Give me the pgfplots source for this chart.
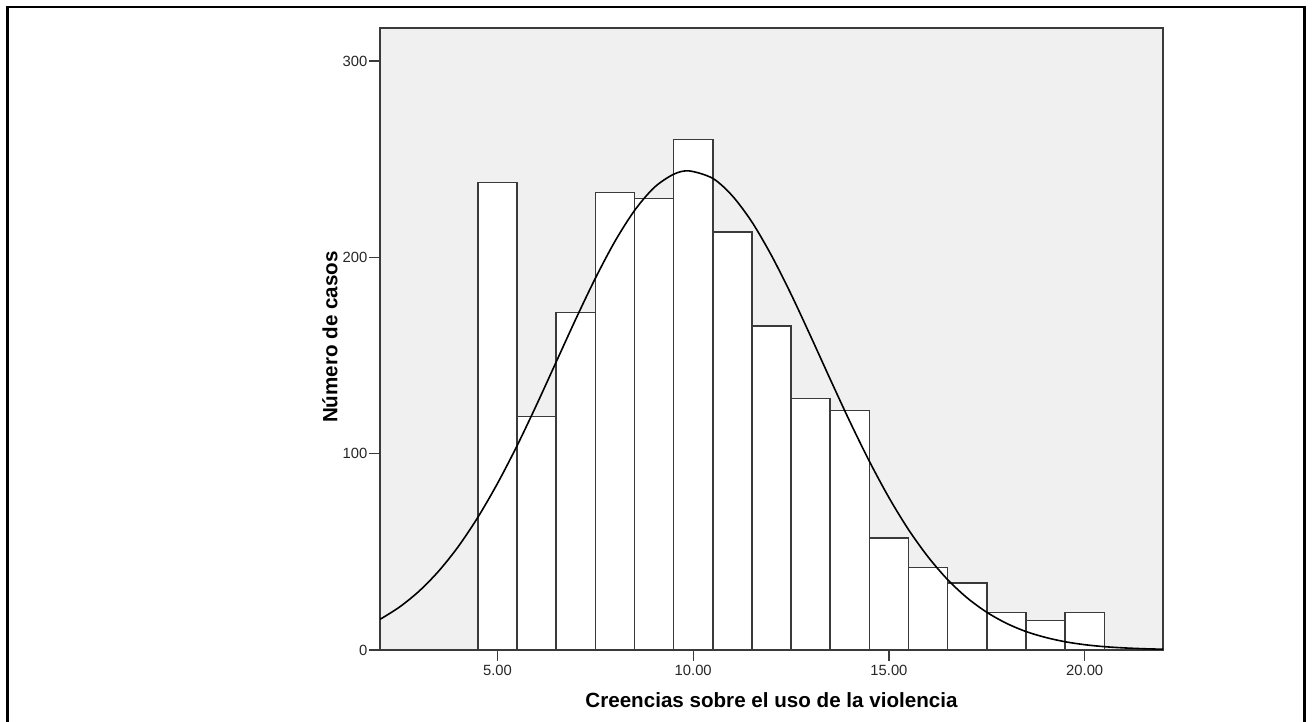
\documentclass[border=0pt]{standalone}
\usepackage{fontspec}
\setmainfont{Liberation Sans}
\usepackage{pgfplots}
\pgfplotsset{compat=1.18}
\definecolor{bgc}{HTML}{F0F0F0}
\definecolor{edge}{HTML}{3A3A3A}
\begin{document}
\begin{tikzpicture}[x=1pt,y=1pt]
\useasboundingbox (0,0) rectangle (656.5,361);
\draw[line width=1.1pt, black] (3.75,-2) -- (3.75,357.6) -- (652.2,357.6) -- (652.2,-2);
\begin{axis}[
  at={(190pt,36pt)}, anchor=south west,
  scale only axis, width=391.5pt, height=311pt,
  xmin=2, xmax=22, ymin=0, ymax=316.8,
  axis background/.style={fill=bgc},
  axis line style={edge, line width=0.75pt},
  xtick={5,10,15,20}, xticklabels={5.00,10.00,15.00,20.00},
  ytick={0,100,200,300},
  tick align=outside, major tick length=5.5pt,
  tick style={edge, line width=0.6pt},
  tick pos=left,
  ticklabel style={font=\fontsize{7.4}{8.5}\selectfont, text=black!85},
  xticklabel style={inner sep=2pt},
  yticklabel style={inner sep=0.6pt},
  /pgf/number format/assume math mode=true,
  xlabel={Creencias sobre el uso de la violencia},
  ylabel={Número de casos},
  label style={font=\bfseries\fontsize{10.3}{12}\selectfont},
  xlabel style={at={(axis description cs:0.5,-0.0925)}, anchor=base},
  ylabel style={at={(axis description cs:-0.0545,0.503)}, anchor=base},
]
\addplot[ybar, bar width=1, fill=white, draw=edge, line width=0.75pt] coordinates {
(5,238) (6,119) (7,172) (8,233) (9,230) (10,260) (11,213) (12,165)
(13,128) (14,122) (15,57) (16,42) (17,34) (18,19) (19,15) (20,19)
};
\addplot[smooth, black, line width=0.8pt] coordinates {
(2,15.6) (2.5,21.9) (3,30.0) (3.5,40.2) (4,52.7) (4.5,67.6) (5,84.8)
(5.5,104.0) (6,124.9) (6.5,146.7) (7,168.5) (7.5,189.3) (8,208.1)
(8.5,223.8) (9,235.5) (9.5,242.3) (9.9,244) (10.5,240.2) (11,231.3)
(11.5,218.0) (12,200.9) (12.5,181.2) (13,159.8) (13.5,137.9) (14,116.4)
(14.5,96.1) (15,77.6) (15.5,61.3) (16,47.4) (16.5,35.8) (17,26.5)
(17.5,19.2) (18,13.6) (18.5,9.4) (19,6.4) (19.5,4.2) (20,2.7)
(20.5,1.7) (21,1.07) (21.5,0.65) (22,0.39)
};
\end{axis}
\end{tikzpicture}
\end{document}
